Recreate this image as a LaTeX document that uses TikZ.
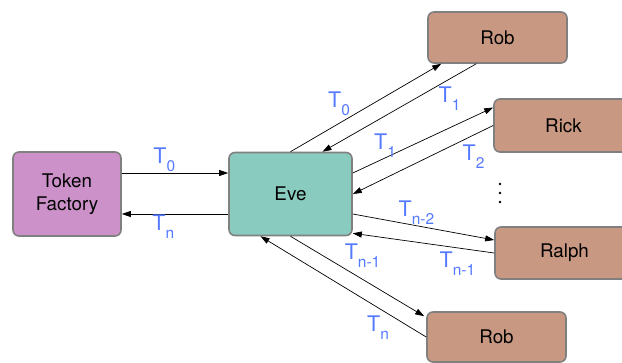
\documentclass[tikz,border=0pt]{standalone}
\usepackage{fontspec}
\setmainfont{TeX Gyre Heros}
\usetikzlibrary{arrows.meta}
\usetikzlibrary{calc}

\definecolor{factoryfill}{RGB}{204,145,200}
\definecolor{evefill}{RGB}{138,203,192}
\definecolor{peerfill}{RGB}{201,152,130}
\definecolor{boxgray}{RGB}{128,128,128}
\definecolor{tokblue}{RGB}{86,122,255}

\newcommand{\tok}[1]{T\raisebox{-8pt}{\fontsize{15.5}{15.5}\selectfont #1}}

\begin{document}
\begin{tikzpicture}[x=1pt,y=-1pt,
    box/.style={draw=boxgray,line width=1.6pt,rounded corners=6pt,inner sep=0pt,
        align=center,font=\fontsize{18.8}{23.5}\selectfont},
    msg/.style={-{Triangle[length=9pt,width=6pt]},line width=0.7pt},
    tl/.style={text=tokblue,inner sep=0.5pt,font=\fontsize{21.5}{21.5}\selectfont}]
                \useasboundingbox (0,0) rectangle (622,363);
                \clip (0,0) rectangle (622,363);
                \node[box,fill=factoryfill,minimum width=108pt,minimum height=84pt] (TF) at (67,194) {Token\\Factory};
                \node[box,fill=evefill,minimum width=123pt,minimum height=83pt] (Eve) at (290.5,194) {Eve};
                \node[box,fill=peerfill,minimum width=139pt,minimum height=51pt] (RobA) at (497.5,37.5) {Rob};
                \node[box,fill=peerfill,minimum width=139pt,minimum height=53pt] (Rick) at (563.5,125.5) {Rick};
                \node[box,fill=peerfill,minimum width=139pt,minimum height=52pt] (Ralph) at (564.5,253) {Ralph};
                \node[box,fill=peerfill,minimum width=139pt,minimum height=50pt] (RobB) at (496.5,337) {Rob};
                \foreach \y in {184,193,202}
                    \fill (500,\y) circle (1.4pt);
                \draw[msg] ([yshift=21pt]TF.east) -- node[tl,above,pos=0.4] (t1) {\tok{0}} ([yshift=21pt]Eve.west);
                \draw[msg] ([yshift=-20pt]Eve.west) -- node[tl,below,pos=0.61] (t2) {\tok{n}} ([yshift=-20pt]TF.east);
                \draw[msg] (Eve.north) -- node[tl,above left,pos=0.4] (t3) {\tok{0}} ([xshift=14pt]RobA.south west);
                \draw[msg] ([xshift=49pt]RobA.south west) -- node[tl,below right,pos=0.25] (t4) {\tok{1}} ([xshift=32pt]Eve.north);
                \draw[msg] ([yshift=21pt]Eve.east) -- node[tl,above,pos=0.23] (t5) {\tok{1}} ([yshift=18pt]Rick.west);
                \draw[msg] (Rick.west) -- node[tl,below=9pt,pos=0.14] (t6) {\tok{2}} (Eve.east);
                \draw[msg] ([yshift=-20pt]Eve.east) -- node[tl,above,pos=0.45] (t7) {\tok{n-2}} ([yshift=13pt]Ralph.west);
                \draw[msg] (Ralph.west) -- node[tl,below=3pt,pos=0.26] (t8) {\tok{n-1}} ([yshift=3pt]Eve.south east);
                \draw[msg] (Eve.south) -- node[tl,above right,pos=0.4] (t9) {\tok{n-1}} ([xshift=-2pt,yshift=-5pt]RobB.north west);
                \draw[msg] (RobB.west) -- node[tl,below left,pos=0.22] (t10) {\tok{n}} ([xshift=-30pt]Eve.south);
            \end{tikzpicture}
\end{document}
